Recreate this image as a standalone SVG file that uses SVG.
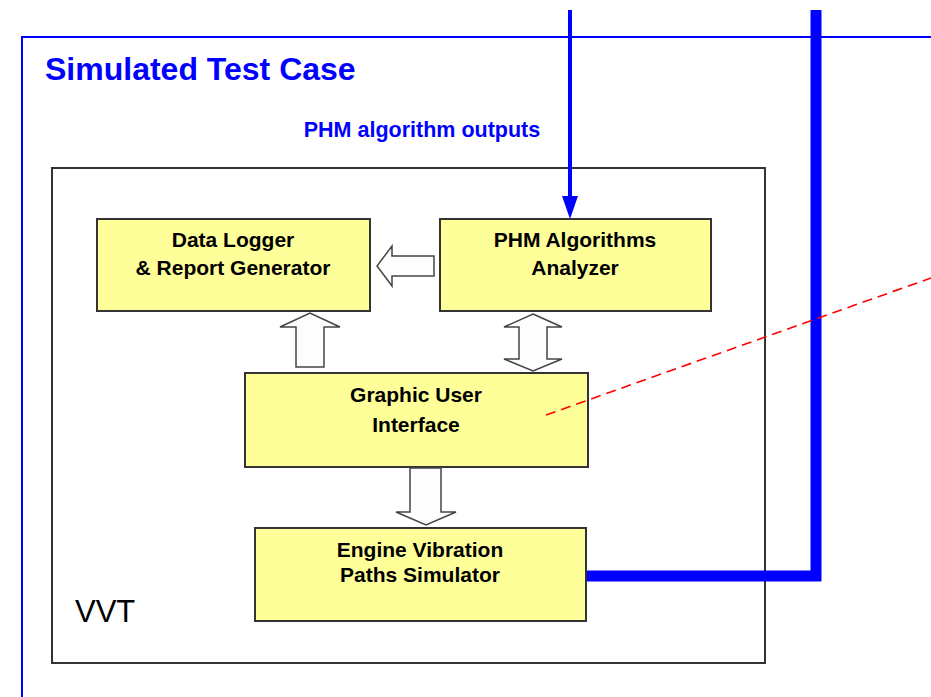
<svg xmlns="http://www.w3.org/2000/svg" width="931" height="697" viewBox="0 0 931 697">
<style>
.box{fill:#ffff99;stroke:#333;stroke-width:2}
.lbl{font-family:"Liberation Sans",Arial,sans-serif;font-weight:bold;font-size:21px;fill:#000;text-anchor:middle}
.blk{fill:#fdfdfd;stroke:#444;stroke-width:1.5}
</style>
<rect width="931" height="697" fill="#fff"/>
<g id="frame">
<path d="M22,697 V37 H931" fill="none" stroke="#0000ff" stroke-width="2"/>
<text x="45" y="80" font-family="Liberation Sans,Arial,sans-serif" font-weight="bold" font-size="32" fill="#0000ff">Simulated Test Case</text>
</g>
<g id="vvt">
<rect x="52" y="168" width="713" height="495" fill="none" stroke="#333" stroke-width="2"/>
<text x="75" y="622" font-family="Liberation Sans,Arial,sans-serif" font-size="31" fill="#000">VVT</text>
</g>
<g id="datalogger">
<rect class="box" x="97" y="219" width="273" height="92"/>
<text class="lbl" x="233" y="247">Data Logger</text>
<text class="lbl" x="233" y="275">&amp; Report Generator</text>
</g>
<g id="phm">
<rect class="box" x="440" y="219" width="271" height="92"/>
<text class="lbl" x="575" y="247">PHM Algorithms</text>
<text class="lbl" x="575" y="275">Analyzer</text>
</g>
<g id="gui">
<rect class="box" x="245" y="373" width="343" height="94"/>
<text class="lbl" x="416" y="402">Graphic User</text>
<text class="lbl" x="416" y="432">Interface</text>
</g>
<g id="engine">
<rect class="box" x="255" y="528" width="331" height="93"/>
<text class="lbl" x="420" y="557">Engine Vibration</text>
<text class="lbl" x="420" y="582">Paths Simulator</text>
</g>
<g id="connectors">
<line x1="570" y1="10" x2="570" y2="196" stroke="#0000ff" stroke-width="4"/>
<path d="M562,196 L578,196 L570,219 Z" fill="#0000ff"/>
<polyline points="816,10 816,576 587,576" fill="none" stroke="#0000ff" stroke-width="11"/>
<text x="422" y="137" font-family="Liberation Sans,Arial,sans-serif" font-weight="bold" font-size="21.5" fill="#0000ff" text-anchor="middle">PHM algorithm outputs</text>
<path class="blk" d="M434,256 L392,256 L392,246 L377,266 L392,286 L392,276 L434,276 Z"/>
<path class="blk" d="M296,367 L296,327 L280,327 L310,313 L340,327 L324,327 L324,367 Z"/>
<path class="blk" d="M533,314 L562,327 L547,327 L547,359 L562,359 L533,371 L504,359 L519,359 L519,327 L504,327 Z"/>
<path class="blk" d="M410,468 L441,468 L441,512 L456,512 L426,525 L396,512 L410,512 Z"/>
<line x1="546" y1="415" x2="931" y2="278" stroke="#ff0000" stroke-width="1.6" stroke-dasharray="10,6"/>
</g>
</svg>
